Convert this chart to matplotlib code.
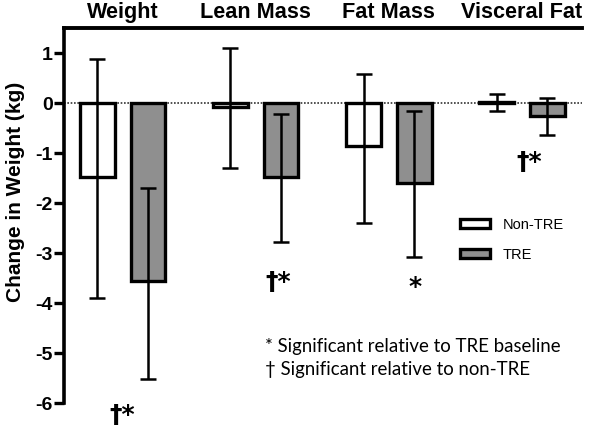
import matplotlib
matplotlib.use("Agg")
import matplotlib.pyplot as plt
import numpy as np
from matplotlib.patches import Patch

groups = ["Weight", "Lean Mass", "Fat Mass", "Visceral Fat"]
non_tre = [-1.48, -0.08, -0.86, 0.02]
non_tre_hi = [0.88, 1.1, 0.58, 0.18]
non_tre_lo = [-3.9, -1.3, -2.4, -0.16]
tre = [-3.56, -1.48, -1.59, -0.25]
tre_hi = [-1.7, -0.22, -0.15, 0.1]
tre_lo = [-5.52, -2.78, -3.08, -0.63]
marks = ["†*", "†*", "*", "†*"]
mark_y = [-6.22, -3.56, -3.66, -1.16]
mark_dx = [0.0, 0.17, 0.2, 0.05]
yticks = [1, 0, -1, -2, -3, -4, -5, -6]

fig = plt.figure(figsize=(6, 4.27), dpi=100)
ax = fig.add_axes([64/600, 1-404/427, (582-64)/600, (404-29)/427])
x = np.arange(len(groups))
off = 0.19
w = 0.26

def errs(vals, hi, lo):
    v = np.array(vals); return [v - np.array(lo), np.array(hi) - v]

ax.bar(x - off, non_tre, w, color="white", edgecolor="black", linewidth=2.4, zorder=2)
ax.bar(x + off, tre, w, color="#8f8f8f", edgecolor="black", linewidth=2.4, zorder=2)
ax.errorbar(x - off, non_tre, yerr=errs(non_tre, non_tre_hi, non_tre_lo), fmt="none",
            ecolor="black", elinewidth=1.8, capsize=6, capthick=1.8, zorder=3)
ax.errorbar(x + off, tre, yerr=errs(tre, tre_hi, tre_lo), fmt="none",
            ecolor="black", elinewidth=1.8, capsize=6, capthick=1.8, zorder=3)
ax.axhline(0, color="#333333", linestyle=(0, (1, 1)), linewidth=1.2, zorder=1)

ax.set_xlim(-0.44, 3.45)
ax.set_ylim(-6, 1.5)
ax.set_yticks(yticks)
ax.set_yticklabels([str(t) for t in yticks], fontsize=14, fontweight="bold", family="Liberation Sans")
ax.tick_params(axis="y", direction="out", length=7, width=2.4, pad=1)
ax.set_xticks([])
for s in ["right", "bottom"]:
    ax.spines[s].set_visible(False)
ax.spines["left"].set_linewidth(2.6)
ax.spines["top"].set_linewidth(2.8)
fig.text(16/600, 1-192/427, "Change in Weight (kg)", rotation=90, ha="center", va="center",
         fontsize=15, fontweight="bold", family="Liberation Sans")

for i, g in enumerate(groups):
    ax.text(i, 1.62, g, ha="center", va="bottom", fontsize=15.6, fontweight="bold", family="Liberation Sans")
    ax.text(i + mark_dx[i], mark_y[i], marks[i], ha="center", va="center", fontsize=18,
            fontweight="bold", family="DejaVu Sans", clip_on=False)

handles = [Patch(facecolor="white", edgecolor="black", linewidth=2.4, label="Non-TRE"),
           Patch(facecolor="#8f8f8f", edgecolor="black", linewidth=2.4, label="TRE")]
leg = ax.legend(handles=handles, loc="upper left", bbox_to_anchor=(0.74, 0.53), frameon=False,
                prop={"family": "Liberation Sans", "size": 10.5}, handlelength=2.0, handleheight=0.6,
                labelspacing=1.1, handletextpad=0.9)

fig.text(265/600, 1-347/427, "* Significant relative to TRE baseline", fontsize=13.4,
         family="Lato", va="center", ha="left")
fig.text(265/600, 1-370/427, "† Significant relative to non-TRE", fontsize=13.4,
         family="Lato", va="center", ha="left")

fig.savefig("out.png", dpi=100)
